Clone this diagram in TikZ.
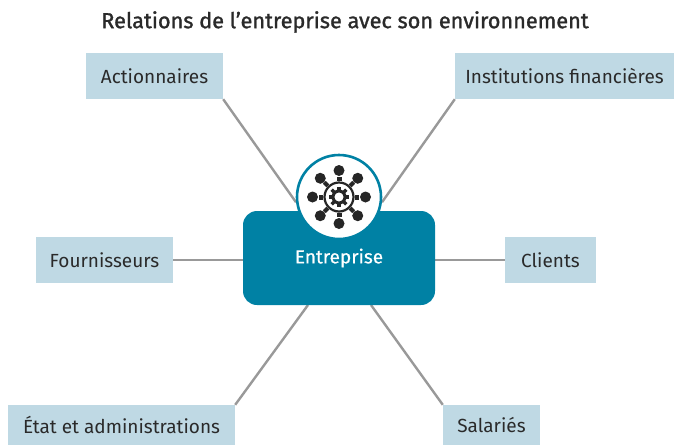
\documentclass[tikz,border=0pt]{standalone}
\usepackage{fontspec}
\usetikzlibrary{backgrounds}
\setmainfont{Fira Sans}
\newfontfamily\mediumfont[FakeBold=0.5]{Fira Sans}
\newfontfamily\titlefont[FakeBold=1.3]{Fira Sans}
\definecolor{tealbox}{HTML}{0081A4}
\definecolor{paleblue}{HTML}{BFD9E4}
\definecolor{linkgray}{HTML}{999999}
\definecolor{inkblack}{HTML}{2A2A2A}
\tikzset{
  partner/.style={fill=paleblue, text=inkblack, font=\fontsize{19}{21}\selectfont, inner sep=0pt},
  link/.style={draw=linkgray, line width=2.4pt},
  sat/.style={circle, fill=black!85, minimum size=11pt, inner sep=0pt},
  spoke/.style={fill=black!85, minimum width=4pt, minimum height=5pt, inner sep=0pt},
  tooth/.style={fill=black!85, minimum width=3.4pt, minimum height=3.6pt, inner sep=0pt}
}
\begin{document}
\begin{tikzpicture}[x=1pt,y=-1pt]
\useasboundingbox (0,0) rectangle (674,445);
\node[font=\fontsize{21.7}{24}\titlefont, text=inkblack] (title) at (345,22){Relations de l’entreprise avec son environnement};
\node[partner, minimum width=137pt, minimum height=46pt] (acti) at (154.5,76){Actionnaires};
\node[partner, minimum width=219pt, minimum height=46pt] (inst) at (564.5,76){Institutions financières};
\node[partner, minimum width=137pt, minimum height=46pt] (four) at (104.5,260){Fournisseurs};
\node[partner, minimum width=91pt, minimum height=46pt] (clie) at (550.5,260){Clients};
\node[partner, minimum width=227pt, minimum height=40pt] (etat) at (121.5,425){État et administrations};
\node[partner, minimum width=97pt, minimum height=40pt] (sala) at (491.5,425){Salariés};
\node[fill=tealbox, text=white, rounded corners=14pt, minimum width=192pt, minimum height=94pt, inner sep=0pt, font=\fontsize{19}{21}\mediumfont] (ent) at (339,258){Entreprise};
\coordinate (entsw) at (308,305);
\coordinate (entse) at (371,305);
\node[circle, fill=white, draw=tealbox, line width=2.6pt, minimum size=84pt, inner sep=0pt] (hub) at (339,197){};
\begin{scope}[on background layer]
\draw[link](acti.south east) -- (hub.187);
\draw[link](inst.south west) -- (hub.-7);
\draw[link](four.east) -- (four.east -| ent.west);
\draw[link](clie.west) -- (clie.west -| ent.east);
\draw[link](etat.north east) -- (entsw);
\draw[link](sala.north west) -- (entse);
\end{scope}
% icon
\foreach \a in {0,45,...,315}{
  \node[sat] (sat\a) at ([shift={(\a:26.5)}]hub.center){};
  \node[spoke, rotate=\a] (spoke\a) at ([shift={(\a:18.3)}]hub.center){};
}
\node[circle, draw=black!85, line width=2.2pt, minimum size=29pt, inner sep=0pt] (ring) at (hub.center){};
\foreach \a in {0,45,...,315}{
  \node[tooth, rotate=\a] (tooth\a) at ([shift={(\a:8.6)}]hub.center){};
}
\node[circle, draw=black!85, line width=3pt, minimum size=12pt, inner sep=0pt] (gear) at (hub.center){};
\end{tikzpicture}
\end{document}
